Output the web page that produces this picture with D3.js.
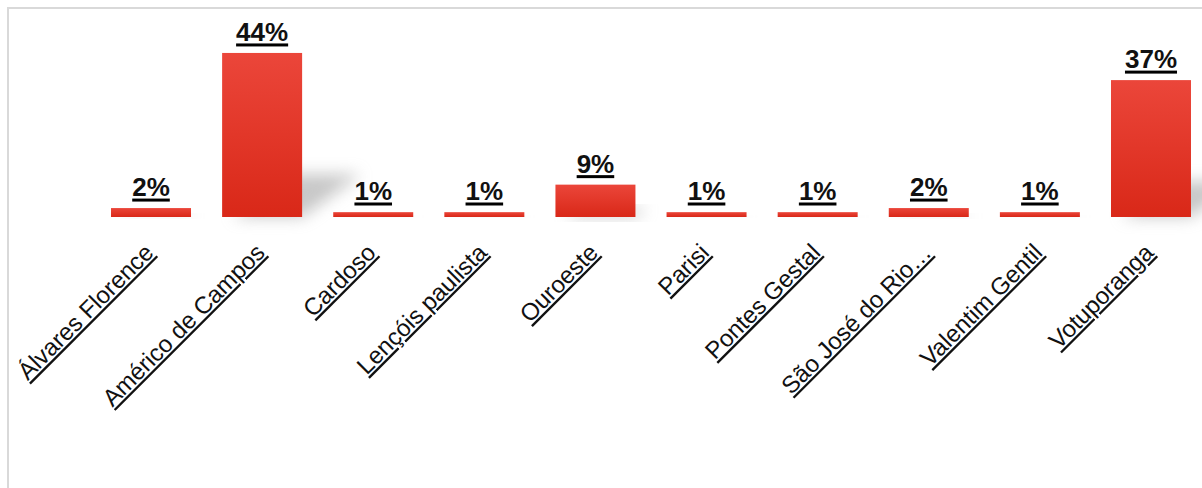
<!DOCTYPE html>
<html>
<head>
<meta charset="utf-8">
<script src="https://cdn.jsdelivr.net/npm/d3@7/dist/d3.min.js"></script>
<style>
  body { margin: 0; background: #fff; }
  svg { display: block; font-family: "Liberation Sans", Arial, sans-serif; }
</style>
</head>
<body>
<svg id="graf"></svg>
<script>
// municipios e participacao (%)
const municipios = ["Álvares Florence", "Américo de Campos", "Cardoso", "Lençóis paulista", "Ouroeste",
                    "Parisi", "Pontes Gestal", "São José do Rio…", "Valentim Gentil", "Votuporanga"];
const percentuais = [2.4, 44.1, 1.3, 1.3, 8.7, 1.3, 1.3, 2.4, 1.3, 36.8];

const W = 1202, H = 488;
const base = 217;

const svg = d3.select("#graf").attr("width", W).attr("height", H);

const defs = svg.append("defs");
const grad = defs.append("linearGradient").attr("id", "barra")
  .attr("x1", 0).attr("y1", 0).attr("x2", 0).attr("y2", 1);
grad.append("stop").attr("offset", "0%").attr("stop-color", "#eb463a");
grad.append("stop").attr("offset", "100%").attr("stop-color", "#d92818");

defs.append("filter").attr("id", "borra")
  .attr("x", "-50%").attr("y", "-50%").attr("width", "200%").attr("height", "200%")
  .append("feGaussianBlur").attr("stdDeviation", 8);

// moldura
svg.append("rect")
  .attr("x", 8).attr("y", 8).attr("width", 1400).attr("height", 700)
  .attr("fill", "none").attr("stroke", "#d9d9d9").attr("stroke-width", 2);

const x = d3.scaleBand().domain(municipios).range([79.9, 1222.1])
  .paddingInner(0.28).paddingOuter(0.28);
const y = d3.scaleLinear().domain([0, 50]).range([base, 31]);

const dados = municipios.map((m, i) => ({ m: m, v: percentuais[i] }));

// sombras
svg.append("g").selectAll("path")
  .data(dados).enter().append("path")
  .attr("d", d => {
    const h = base - y(d.v);
    const x0 = x(d.m) + 10, x1 = x(d.m) + x.bandwidth();
    const dx = h * 0.36, dy = h * 0.26;
    return `M${x0},${base} L${x1},${base} L${x1 + dx},${base - dy} L${x0 + dx},${base - dy} Z`;
  })
  .attr("fill", "#909090")
  .attr("opacity", 0.5)
  .attr("filter", "url(#borra)");

// barras
svg.append("g").selectAll("rect")
  .data(dados).enter().append("rect")
  .attr("x", d => x(d.m))
  .attr("y", d => y(d.v))
  .attr("width", x.bandwidth())
  .attr("height", d => base - y(d.v))
  .attr("fill", "url(#barra)");

// rotulos de valor (sublinhado grosso desenhado a mao)
const rot = svg.append("g").selectAll("g")
  .data(dados).enter().append("g")
  .attr("transform", d => `translate(${x(d.m) + x.bandwidth() / 2},${Math.min(y(d.v) - 12, 200)})`);

rot.append("text")
  .attr("text-anchor", "middle")
  .style("font-size", "26px")
  .style("font-weight", "bold")
  .attr("fill", "#111")
  .text(d => Math.round(d.v) + "%");

rot.each(function() {
  const g = d3.select(this);
  const w = g.select("text").node().getComputedTextLength();
  g.append("rect")
    .attr("x", -w / 2).attr("y", 2.5)
    .attr("width", w).attr("height", 3)
    .attr("fill", "#000");
});

// nomes dos municipios
svg.append("g").selectAll("text")
  .data(dados).enter().append("text")
  .attr("transform", d => `translate(${x(d.m) + x.bandwidth() / 2 + 4},254) rotate(-45)`)
  .attr("text-anchor", "end")
  .style("font-size", "24px")
  .style("text-decoration", "underline")
  .attr("fill", "#111")
  .text(d => d.m);
</script>
</body>
</html>
